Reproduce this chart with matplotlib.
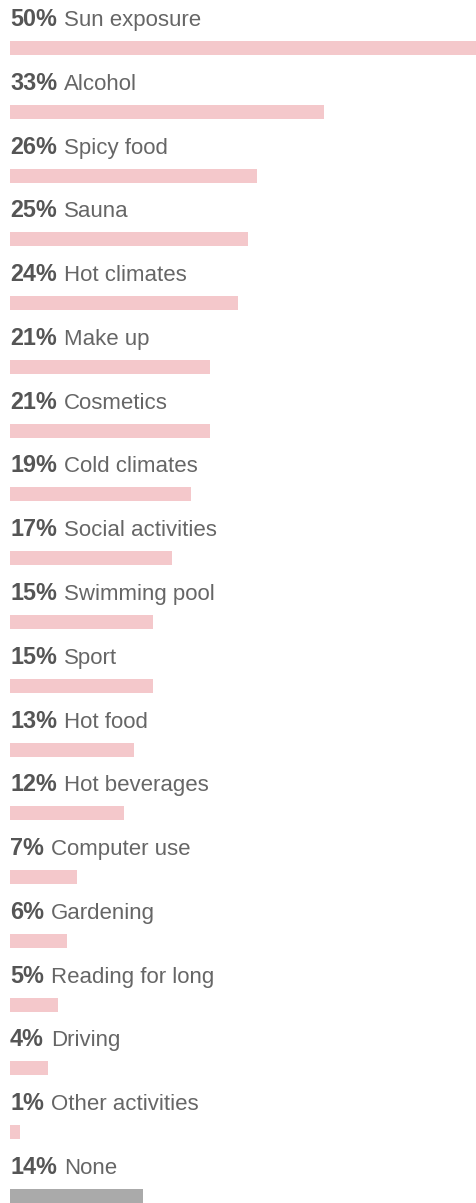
import matplotlib
matplotlib.use("Agg")
import matplotlib.pyplot as plt

# data
labels = ["Sun exposure", "Alcohol", "Spicy food", "Sauna", "Hot climates",
          "Make up", "Cosmetics", "Cold climates", "Social activities",
          "Swimming pool", "Sport", "Hot food", "Hot beverages",
          "Computer use", "Gardening", "Reading for long", "Driving",
          "Other activities", "None"]
values = [50, 33, 26, 25, 24, 21, 21, 19, 17, 15, 15, 13, 12, 7, 6, 5, 4, 1, 14]

pink = "#f4c8cb"
grey = "#aaaaaa"
colors = [pink] * (len(values) - 1) + [grey]

W, H = 477, 1203
fig = plt.figure(figsize=(W / 100, H / 100), dpi=100)
ax = fig.add_axes([10 / W, 0, (W - 10) / W, 1])

step = 63.78
bar_h = 14 / step
ys = list(range(len(values)))
ax.barh(ys, values, height=bar_h, color=colors, linewidth=0)
ax.set_xlim(0, (W - 10) / 9.5)
ax.set_ylim(len(values) - 1 + 7 / step, -48 / step)
ax.axis("off")

fig.canvas.draw()
r = fig.canvas.get_renderer()
for i, (v, lab) in enumerate(zip(values, labels)):
    y = i - 22 / step
    t = ax.text(0, y, f"{v}%", fontsize=16.8, fontweight="bold", color="#555555",
                family="Liberation Sans", va="baseline", ha="left")
    bb = t.get_window_extent(renderer=r)
    x_px = bb.x1 + 7
    x_data = ax.transData.inverted().transform((x_px, 0))[0]
    ax.text(x_data, y, lab, fontsize=16, color="#666666",
            family="Liberation Sans", va="baseline", ha="left")

fig.savefig("out.png", dpi=100)
